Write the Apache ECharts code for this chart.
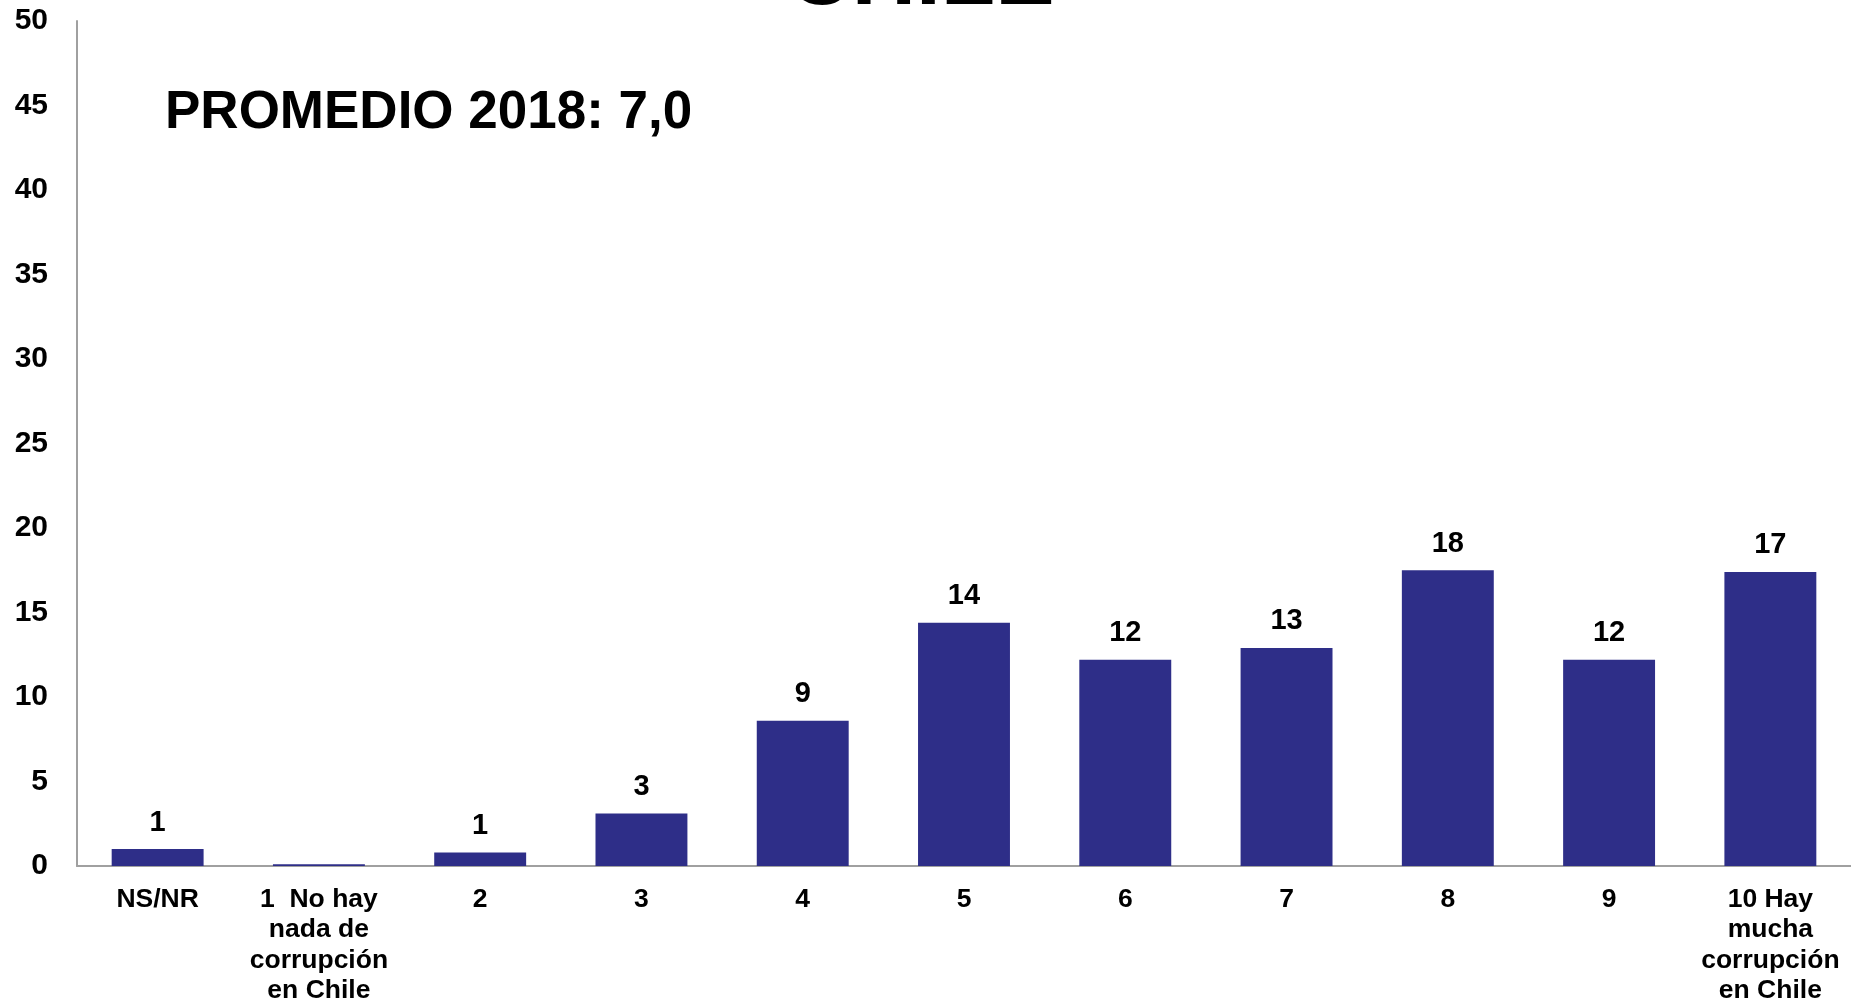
<!DOCTYPE html>
<html>
<head>
<meta charset="utf-8">
<script src="https://cdn.jsdelivr.net/npm/echarts@6/dist/echarts.min.js"></script>
<style>
html,body{margin:0;padding:0;background:#fff;}
#chart{width:1851px;height:1006px;}
</style>
</head>
<body>
<div id="chart"></div>
<script>
var categories = ['NS/NR', '1  No hay\nnada de\ncorrupción\nen Chile', '2', '3', '4', '5', '6', '7', '8', '9', '10 Hay\nmucha\ncorrupción\nen Chile'];
var values = [1.0, 0.1, 0.8, 3.1, 8.6, 14.4, 12.2, 12.9, 17.5, 12.2, 17.4];
var yTicks = [0, 5, 10, 15, 20, 25, 30, 35, 40, 45, 50];
var titleText = 'CHILE';
var noteText = 'PROMEDIO 2018: 7,0';

var FONT = '"Liberation Sans", Arial, sans-serif';
var chart = echarts.init(document.getElementById('chart'));
chart.setOption({
  animation: false,
  backgroundColor: '#ffffff',
  grid: { left: 77, right: -1, top: 21, bottom: 137, containLabel: false },
  graphic: [
    { type: 'text', x: 921, y: -21,
      style: { text: titleText, font: 'bold 89px ' + FONT, fill: '#000', textAlign: 'center', textVerticalAlign: 'middle' } },
    { type: 'text', x: 165, y: 113,
      style: { text: noteText, font: 'bold 53px ' + FONT, fill: '#000', textAlign: 'left', textVerticalAlign: 'middle' } }
  ],
  xAxis: {
    type: 'category',
    data: categories,
    axisLine: { show: true, lineStyle: { color: '#a0a0a0', width: 2 } },
    axisTick: { show: false },
    axisLabel: { interval: 0, margin: 18, color: '#000', fontFamily: FONT, fontWeight: 'bold', fontSize: 26.5, lineHeight: 30.5, align: 'center' }
  },
  yAxis: {
    type: 'value',
    min: yTicks[0], max: yTicks[yTicks.length - 1], interval: 5,
    axisLine: { show: true, lineStyle: { color: '#a0a0a0', width: 2 } },
    axisTick: { show: false },
    splitLine: { show: false },
    axisLabel: { margin: 29, color: '#000', fontFamily: FONT, fontWeight: 'bold', fontSize: 30 }
  },
  series: [{
    type: 'bar',
    data: values,
    barWidth: '57%',
    itemStyle: { color: '#2e2e88' },
    label: {
      show: true, position: 'top', distance: 12,
      color: '#000', fontFamily: FONT, fontWeight: 'bold', fontSize: 29,
      formatter: function (p) { var r = Math.round(p.value); return r === 0 ? '' : String(r); }
    }
  }]
});
</script>
</body>
</html>
